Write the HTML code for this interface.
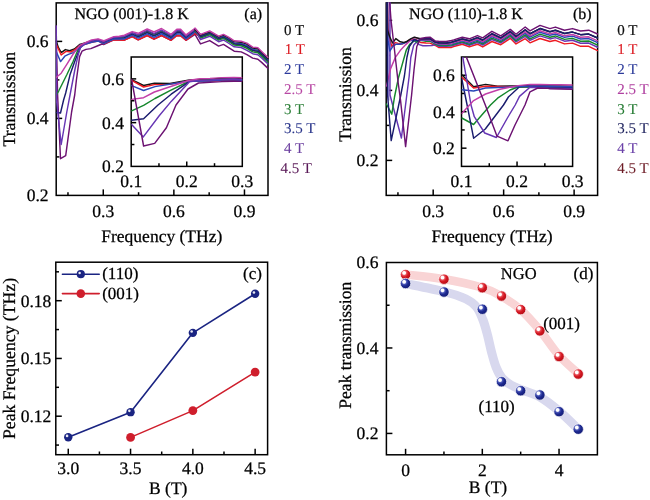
<!DOCTYPE html>
<html><head><meta charset="utf-8"><style>
html,body{margin:0;padding:0;background:#fff;width:650px;height:500px;overflow:hidden;position:relative}
text{text-rendering:geometricPrecision}
</style></head><body>
<svg width="650" height="500" viewBox="0 0 650 500" style="position:absolute;left:0;top:0;will-change:transform">
<g font-family='"Liberation Serif", serif' text-rendering="geometricPrecision">
<rect width="650" height="500" fill="#fff"/>
<defs><clipPath id="ca"><rect x="55.5" y="2.2" width="213.2" height="193.9"/></clipPath><clipPath id="cb"><rect x="385.5" y="2.2" width="212.8" height="193.9"/></clipPath><clipPath id="cia"><rect x="131.2" y="57" width="111.1" height="109.4"/></clipPath><clipPath id="cib"><rect x="461.5" y="57" width="111.1" height="109.4"/></clipPath></defs>
<rect x="56.20" y="2.90" width="211.80" height="192.50" fill="none" stroke="#000" stroke-width="1.5"/>
<line x1="103.27" y1="195.40" x2="103.27" y2="189.40" stroke="#000" stroke-width="1.5"/>
<line x1="173.87" y1="195.40" x2="173.87" y2="189.40" stroke="#000" stroke-width="1.5"/>
<line x1="244.47" y1="195.40" x2="244.47" y2="189.40" stroke="#000" stroke-width="1.5"/>
<line x1="67.97" y1="195.40" x2="67.97" y2="192.20" stroke="#000" stroke-width="1.5"/>
<line x1="138.57" y1="195.40" x2="138.57" y2="192.20" stroke="#000" stroke-width="1.5"/>
<line x1="209.17" y1="195.40" x2="209.17" y2="192.20" stroke="#000" stroke-width="1.5"/>
<line x1="56.20" y1="118.40" x2="62.20" y2="118.40" stroke="#000" stroke-width="1.5"/>
<line x1="56.20" y1="41.40" x2="62.20" y2="41.40" stroke="#000" stroke-width="1.5"/>
<line x1="56.20" y1="156.90" x2="59.40" y2="156.90" stroke="#000" stroke-width="1.5"/>
<line x1="56.20" y1="79.90" x2="59.40" y2="79.90" stroke="#000" stroke-width="1.5"/>
<text x="48.60" y="201.30" font-size="17.5" text-anchor="end" fill="#000" stroke="#000" stroke-width="0.25">0.2</text>
<text x="48.60" y="124.30" font-size="17.5" text-anchor="end" fill="#000" stroke="#000" stroke-width="0.25">0.4</text>
<text x="48.60" y="47.30" font-size="17.5" text-anchor="end" fill="#000" stroke="#000" stroke-width="0.25">0.6</text>
<text x="103.27" y="216.50" font-size="17.5" text-anchor="middle" fill="#000" stroke="#000" stroke-width="0.25">0.3</text>
<text x="173.87" y="216.50" font-size="17.5" text-anchor="middle" fill="#000" stroke="#000" stroke-width="0.25">0.6</text>
<text x="244.47" y="216.50" font-size="17.5" text-anchor="middle" fill="#000" stroke="#000" stroke-width="0.25">0.9</text>
<text x="15.20" y="99.20" font-size="17.7" text-anchor="middle" fill="#000" stroke="#000" stroke-width="0.25" transform="rotate(-90 15.2 99.2)">Transmission</text>
<text x="161.80" y="241.80" font-size="17.5" text-anchor="middle" fill="#000" stroke="#000" stroke-width="0.25">Frequency (THz)</text>
<text x="74.50" y="19.30" font-size="16" text-anchor="start" fill="#000" stroke="#000" stroke-width="0.25">NGO (001)-1.8 K</text>
<text x="244.30" y="19.30" font-size="16" text-anchor="start" fill="#000" stroke="#000" stroke-width="0.25">(a)</text>
<g clip-path="url(#ca)">
<polyline points="56.10,26.00 57.60,95.00 60.50,158.70 65.70,155.70 71.60,112.00 74.70,95.00 76.40,80.00 79.60,56.60 82.00,51.20 86.00,49.40 90.80,48.60 97.20,46.00 102.00,44.00 103.60,44.50 113.80,39.90 119.30,40.00 124.40,40.20 132.20,36.60 138.20,39.80 147.20,35.50 154.00,39.20 161.50,35.50 171.10,40.30 176.80,35.50 180.60,35.80 186.00,40.30 195.00,34.30 200.50,43.90 209.70,40.60 218.60,46.10 223.50,44.40 229.00,47.90 234.20,51.20 241.20,51.90 246.90,54.70 252.70,58.10 257.90,59.20 261.90,62.60 268.00,68.40" fill="none" stroke="#6c1272" stroke-width="1.45" stroke-linejoin="round" stroke-linecap="round" opacity="1.0"/>
<polyline points="56.40,41.20 58.20,47.20 61.20,52.60 65.40,49.60 69.60,50.80 74.40,49.00 79.60,44.49 84.20,43.16 91.60,40.86 98.10,39.74 103.60,41.91 113.80,37.59 119.30,37.34 124.40,36.70 132.20,33.10 138.20,35.25 147.20,30.95 154.00,34.16 161.50,30.60 171.10,36.17 176.80,31.16 180.60,31.18 186.00,36.52 195.00,29.80 200.50,35.11" fill="none" stroke="#141414" stroke-width="1.45" stroke-linejoin="round" stroke-linecap="round" opacity="1.0"/>
<polyline points="56.40,95.00 58.80,90.80 66.80,74.80 73.20,61.20 78.00,49.80 80.40,45.60 84.20,43.80 91.60,41.50 98.10,40.30 103.60,42.65 113.80,38.25 119.30,38.10 124.40,37.70 132.20,34.10 138.20,36.55 147.20,32.25 154.00,35.60 161.50,32.00 171.10,37.35 176.80,32.40 180.60,32.50 186.00,37.60 195.00,30.80 200.50,38.07" fill="none" stroke="#15872c" stroke-width="1.45" stroke-linejoin="round" stroke-linecap="round" opacity="1.0"/>
<polyline points="56.40,112.50 60.50,113.00 63.60,100.00 65.70,93.00 70.00,74.80 74.80,61.20 79.60,49.20 82.00,45.00 84.20,43.96 91.60,41.66 98.10,40.44 103.60,42.84 113.80,38.41 119.30,38.29 124.40,37.95 132.20,34.35 138.20,36.88 147.20,32.58 154.00,35.96 161.50,32.35 171.10,37.64 176.80,32.71 180.60,32.83 186.00,37.87 195.00,31.05 200.50,37.05" fill="none" stroke="#1a1c6e" stroke-width="1.45" stroke-linejoin="round" stroke-linecap="round" opacity="1.0"/>
<polyline points="56.40,44.80 61.20,55.00 66.00,51.40 70.80,52.00 75.00,49.60 79.60,45.88 84.20,44.50 91.60,42.20 98.10,40.92 103.60,43.75 113.80,39.90 119.30,40.00 124.40,40.20 132.20,36.60 138.20,39.80 147.20,35.50 154.00,39.20 161.50,35.50 171.10,40.30 176.80,35.50 180.60,35.80 186.00,40.30 195.00,33.30 200.50,36.95" fill="none" stroke="#ee1a22" stroke-width="1.45" stroke-linejoin="round" stroke-linecap="round" opacity="1.0"/>
<polyline points="56.40,52.00 60.60,61.60 64.80,56.20 68.40,54.40 73.20,52.60 78.00,49.00 84.20,44.60 91.60,42.30 98.10,41.00 103.60,43.58 113.80,39.08 119.30,39.05 124.40,38.95 132.20,35.35 138.20,38.17 147.20,33.88 154.00,37.40 161.50,33.75 171.10,38.82 176.80,33.95 180.60,34.15 186.00,38.95 195.00,32.05 200.50,36.24" fill="none" stroke="#2a48b8" stroke-width="1.45" stroke-linejoin="round" stroke-linecap="round" opacity="1.0"/>
<polyline points="56.10,26.00 56.50,100.00 61.20,144.50 66.80,112.00 70.40,93.00 74.80,70.00 78.00,55.60 80.40,47.60 83.60,44.60 91.60,40.60 98.10,39.52 103.60,41.61 113.80,37.33 119.30,37.04 124.40,36.30 132.20,32.70 138.20,34.73 147.20,30.43 154.00,33.58 161.50,30.04 171.10,35.70 176.80,30.66 180.60,30.65 186.00,36.09 195.00,29.40 200.50,39.50" fill="none" stroke="#6636b4" stroke-width="1.45" stroke-linejoin="round" stroke-linecap="round" opacity="1.0"/>
<polyline points="56.40,77.20 61.20,73.20 66.80,64.40 73.20,54.00 79.60,45.40 86.00,42.40 91.60,39.90 98.10,38.90 103.60,40.80 113.80,36.60 119.30,36.20 124.40,35.20 132.20,31.60 138.20,33.30 147.20,29.00 154.00,32.00 161.50,28.50 171.10,34.40 176.80,29.30 180.60,29.20 186.00,34.90 195.00,28.30 200.50,34.40" fill="none" stroke="#c23ea8" stroke-width="1.45" stroke-linejoin="round" stroke-linecap="round" opacity="1.0"/>
<polyline points="195.00,33.30 200.50,36.95 209.70,33.60 218.60,38.95 223.50,37.20 229.00,40.40 234.20,43.80 241.20,44.40 246.90,46.70 252.70,50.40 257.90,51.25 261.90,54.95 268.00,60.80" fill="none" stroke="#ee1a22" stroke-width="1.45" stroke-linejoin="round" stroke-linecap="round" opacity="1.0"/>
<polyline points="195.00,32.05 200.50,36.24 209.70,32.87 218.60,38.18 223.50,36.42 229.00,39.53 234.20,42.96 241.20,43.53 246.90,45.69 252.70,49.48 257.90,50.26 261.90,54.04 268.00,59.90" fill="none" stroke="#2a48b8" stroke-width="1.45" stroke-linejoin="round" stroke-linecap="round" opacity="1.0"/>
<polyline points="195.00,31.05 200.50,37.05 209.70,33.70 218.60,39.06 223.50,37.31 229.00,40.52 234.20,43.92 241.20,44.52 246.90,46.84 252.70,50.53 257.90,51.39 261.90,55.08 268.00,60.93" fill="none" stroke="#1a1c6e" stroke-width="1.45" stroke-linejoin="round" stroke-linecap="round" opacity="1.0"/>
<polyline points="195.00,30.80 200.50,38.07 209.70,34.74 218.60,40.16 223.50,38.43 229.00,41.76 234.20,45.12 241.20,45.76 246.90,48.28 252.70,51.85 257.90,52.81 261.90,56.38 268.00,62.21" fill="none" stroke="#15872c" stroke-width="1.45" stroke-linejoin="round" stroke-linecap="round" opacity="1.0"/>
<polyline points="195.00,29.40 200.50,39.50 209.70,36.20 218.60,41.70 223.50,40.00 229.00,43.50 234.20,46.80 241.20,47.50 246.90,50.30 252.70,53.70 257.90,54.80 261.90,58.20 268.00,64.00" fill="none" stroke="#6636b4" stroke-width="1.45" stroke-linejoin="round" stroke-linecap="round" opacity="1.0"/>
<polyline points="195.00,29.80 200.50,35.11 209.70,31.73 218.60,36.97 223.50,35.18 229.00,38.17 234.20,41.64 241.20,42.17 246.90,44.11 252.70,48.02 257.90,48.69 261.90,52.61 268.00,58.50" fill="none" stroke="#141414" stroke-width="1.45" stroke-linejoin="round" stroke-linecap="round" opacity="1.0"/>
<polyline points="195.00,28.30 200.50,34.40 209.70,31.00 218.60,36.20 223.50,34.40 229.00,37.30 234.20,40.80 241.20,41.30 246.90,43.10 252.70,47.10 257.90,47.70 261.90,51.70 268.00,57.60" fill="none" stroke="#c23ea8" stroke-width="1.45" stroke-linejoin="round" stroke-linecap="round" opacity="1.0"/>
</g>
<rect x="131.2" y="57" width="111.1" height="109.4" fill="#fff"/>
<rect x="131.2" y="57.0" width="111.10000000000002" height="109.4" fill="none" stroke="#000" stroke-width="1.5"/>
<line x1="186.75" y1="166.40" x2="186.75" y2="161.40" stroke="#000" stroke-width="1.5"/>
<line x1="158.97" y1="166.40" x2="158.97" y2="163.20" stroke="#000" stroke-width="1.5"/>
<line x1="214.52" y1="166.40" x2="214.52" y2="163.20" stroke="#000" stroke-width="1.5"/>
<line x1="131.20" y1="122.64" x2="136.20" y2="122.64" stroke="#000" stroke-width="1.5"/>
<line x1="131.20" y1="78.88" x2="136.20" y2="78.88" stroke="#000" stroke-width="1.5"/>
<line x1="131.20" y1="144.52" x2="134.40" y2="144.52" stroke="#000" stroke-width="1.5"/>
<line x1="131.20" y1="100.76" x2="134.40" y2="100.76" stroke="#000" stroke-width="1.5"/>
<text x="123.90" y="172.30" font-size="17.5" text-anchor="end" fill="#000" stroke="#000" stroke-width="0.25">0.2</text>
<text x="123.90" y="128.54" font-size="17.5" text-anchor="end" fill="#000" stroke="#000" stroke-width="0.25">0.4</text>
<text x="123.90" y="84.78" font-size="17.5" text-anchor="end" fill="#000" stroke="#000" stroke-width="0.25">0.6</text>
<text x="131.20" y="187.20" font-size="17.5" text-anchor="middle" fill="#000" stroke="#000" stroke-width="0.25">0.1</text>
<text x="186.75" y="187.20" font-size="17.5" text-anchor="middle" fill="#000" stroke="#000" stroke-width="0.25">0.2</text>
<text x="242.30" y="187.20" font-size="17.5" text-anchor="middle" fill="#000" stroke="#000" stroke-width="0.25">0.3</text>
<g clip-path="url(#cia)">
<polyline points="131.60,79.60 143.60,85.50 154.40,83.30 170.00,83.50 189.50,80.00 200.00,79.40 210.00,79.12 222.00,78.32 234.00,78.12 242.30,78.52" fill="none" stroke="#141414" stroke-width="1.45" stroke-linejoin="round" stroke-linecap="round" opacity="1.0"/>
<polyline points="131.60,110.80 143.60,105.40 155.00,98.50 170.00,90.60 185.60,83.00 189.50,80.80 200.00,80.50 210.00,80.38 222.00,79.58 234.00,79.38 242.30,79.78" fill="none" stroke="#15872c" stroke-width="1.45" stroke-linejoin="round" stroke-linecap="round" opacity="1.0"/>
<polyline points="131.60,120.20 143.60,118.80 158.00,105.00 171.20,94.20 185.60,84.20 189.50,81.20 200.00,80.80 210.00,80.56 222.00,79.76 234.00,79.56 242.30,79.96" fill="none" stroke="#1a1c6e" stroke-width="1.45" stroke-linejoin="round" stroke-linecap="round" opacity="1.0"/>
<polyline points="131.60,80.40 143.60,87.00 154.40,84.60 170.00,84.40 189.50,80.60 200.00,80.60 210.00,81.28 222.00,80.48 234.00,80.28 242.30,80.68" fill="none" stroke="#ee1a22" stroke-width="1.45" stroke-linejoin="round" stroke-linecap="round" opacity="1.0"/>
<polyline points="131.60,85.60 143.60,90.50 155.00,86.60 189.50,81.00 200.00,80.80 210.00,80.92 222.00,80.12 234.00,79.92 242.30,80.32" fill="none" stroke="#2a48b8" stroke-width="1.45" stroke-linejoin="round" stroke-linecap="round" opacity="1.0"/>
<polyline points="131.60,124.50 143.30,136.90 159.20,115.80 171.20,101.40 185.60,86.00 189.50,81.80 200.00,80.40 210.00,80.02 222.00,79.22 234.00,79.02 242.30,79.42" fill="none" stroke="#6636b4" stroke-width="1.45" stroke-linejoin="round" stroke-linecap="round" opacity="1.0"/>
<polyline points="131.60,99.40 143.60,97.70 154.40,92.00 189.50,80.20 200.00,78.80 210.00,78.40 222.00,77.60 234.00,77.40 242.30,77.80" fill="none" stroke="#c23ea8" stroke-width="1.45" stroke-linejoin="round" stroke-linecap="round" opacity="1.0"/>
<polyline points="131.60,79.50 143.60,146.00 154.70,143.40 166.40,127.80 176.00,105.00 188.00,89.00 198.50,83.00 210.00,82.40 222.00,81.60 234.00,81.20 242.30,81.40" fill="none" stroke="#6c1272" stroke-width="1.45" stroke-linejoin="round" stroke-linecap="round" opacity="1.0"/>
</g>
<text x="284.00" y="34.60" font-size="15" text-anchor="start" fill="#111" stroke="#111" stroke-width="0.2">0 T</text>
<text x="284.80" y="54.35" font-size="15" text-anchor="start" fill="#dc1a22" stroke="#dc1a22" stroke-width="0.08">1 T</text>
<text x="284.00" y="74.10" font-size="15" text-anchor="start" fill="#2c3a9c" stroke="#2c3a9c" stroke-width="0.08">2 T</text>
<text x="284.00" y="93.85" font-size="15" text-anchor="start" fill="#b848a4" stroke="#b848a4" stroke-width="0.08">2.5 T</text>
<text x="284.00" y="113.60" font-size="15" text-anchor="start" fill="#2a7e36" stroke="#2a7e36" stroke-width="0.08">3 T</text>
<text x="284.00" y="133.35" font-size="15" text-anchor="start" fill="#28348a" stroke="#28348a" stroke-width="0.08">3.5 T</text>
<text x="284.00" y="153.10" font-size="15" text-anchor="start" fill="#6c40a0" stroke="#6c40a0" stroke-width="0.08">4 T</text>
<text x="280.60" y="172.85" font-size="15" text-anchor="start" fill="#5a1a58" stroke="#5a1a58" stroke-width="0.08">4.5 T</text>
<rect x="386.20" y="2.90" width="211.40" height="192.50" fill="none" stroke="#000" stroke-width="1.5"/>
<line x1="433.18" y1="195.40" x2="433.18" y2="189.40" stroke="#000" stroke-width="1.5"/>
<line x1="503.64" y1="195.40" x2="503.64" y2="189.40" stroke="#000" stroke-width="1.5"/>
<line x1="574.11" y1="195.40" x2="574.11" y2="189.40" stroke="#000" stroke-width="1.5"/>
<line x1="397.94" y1="195.40" x2="397.94" y2="192.20" stroke="#000" stroke-width="1.5"/>
<line x1="468.41" y1="195.40" x2="468.41" y2="192.20" stroke="#000" stroke-width="1.5"/>
<line x1="538.88" y1="195.40" x2="538.88" y2="192.20" stroke="#000" stroke-width="1.5"/>
<line x1="386.20" y1="160.40" x2="392.20" y2="160.40" stroke="#000" stroke-width="1.5"/>
<line x1="386.20" y1="90.40" x2="392.20" y2="90.40" stroke="#000" stroke-width="1.5"/>
<line x1="386.20" y1="20.40" x2="392.20" y2="20.40" stroke="#000" stroke-width="1.5"/>
<line x1="386.20" y1="125.40" x2="389.40" y2="125.40" stroke="#000" stroke-width="1.5"/>
<line x1="386.20" y1="55.40" x2="389.40" y2="55.40" stroke="#000" stroke-width="1.5"/>
<text x="378.40" y="166.30" font-size="17.5" text-anchor="end" fill="#000" stroke="#000" stroke-width="0.25">0.2</text>
<text x="378.40" y="96.30" font-size="17.5" text-anchor="end" fill="#000" stroke="#000" stroke-width="0.25">0.4</text>
<text x="378.40" y="26.30" font-size="17.5" text-anchor="end" fill="#000" stroke="#000" stroke-width="0.25">0.6</text>
<text x="433.18" y="216.50" font-size="17.5" text-anchor="middle" fill="#000" stroke="#000" stroke-width="0.25">0.3</text>
<text x="503.64" y="216.50" font-size="17.5" text-anchor="middle" fill="#000" stroke="#000" stroke-width="0.25">0.6</text>
<text x="574.11" y="216.50" font-size="17.5" text-anchor="middle" fill="#000" stroke="#000" stroke-width="0.25">0.9</text>
<text x="350.80" y="94.40" font-size="17.7" text-anchor="middle" fill="#000" stroke="#000" stroke-width="0.25" transform="rotate(-90 350.8 94.4)">Transmission</text>
<text x="492.00" y="241.80" font-size="17.5" text-anchor="middle" fill="#000" stroke="#000" stroke-width="0.25">Frequency (THz)</text>
<text x="409.10" y="19.40" font-size="16" text-anchor="start" fill="#000" stroke="#000" stroke-width="0.25">NGO (110)-1.8 K</text>
<text x="572.90" y="19.40" font-size="16" text-anchor="start" fill="#000" stroke="#000" stroke-width="0.25">(b)</text>
<g clip-path="url(#cb)">
<polyline points="388.80,-4.00 388.80,100.00" fill="none" stroke="#a89ce0" stroke-width="1.6" stroke-linejoin="round" stroke-linecap="round" opacity="1.0"/>
<polyline points="387.20,-4.00 388.00,28.00 390.00,40.00 391.80,46.20 395.40,42.60 398.30,43.40 402.00,44.00 404.50,42.80 410.60,39.40 416.00,39.50 420.50,42.50 426.00,43.00 430.00,43.10 435.40,45.50 438.60,47.40 446.10,47.40 451.50,47.40 453.70,46.50 462.30,44.20 469.30,46.90 477.40,44.20 482.70,46.90 491.90,41.50 500.80,44.70 510.30,38.30 516.00,43.90 525.20,38.70 530.00,42.80 540.00,38.50 549.90,41.50 555.40,40.30 564.50,43.90 572.50,43.10 580.60,46.30 588.70,46.30 597.60,50.60" fill="none" stroke="#ee1a22" stroke-width="1.45" stroke-linejoin="round" stroke-linecap="round" opacity="1.0"/>
<polyline points="390.00,-4.00 390.00,95.00 401.40,138.00 406.80,95.00 409.20,76.00 410.80,57.50 413.70,45.20 416.20,42.20 419.20,44.60 422.90,45.80 426.00,45.80 432.00,45.50 435.40,44.60 438.60,46.16 446.10,46.22 451.50,46.02 453.70,45.18 462.30,42.80 469.30,45.28 477.40,42.48 482.70,45.08 491.90,39.46 500.80,42.92 510.30,36.52 516.00,41.96 525.20,36.36 530.00,40.42 540.00,35.88 549.90,38.92 555.40,37.66 564.50,41.16 572.50,40.20 580.60,43.24 588.70,43.08 597.60,47.28" fill="none" stroke="#6636b4" stroke-width="1.45" stroke-linejoin="round" stroke-linecap="round" opacity="1.0"/>
<polyline points="386.40,104.00 391.80,114.20 394.50,97.00 398.40,78.00 403.20,61.00 406.30,50.00 410.00,44.00 414.30,40.90 416.80,42.20 420.50,40.30 426.00,41.19 430.00,41.15 435.40,44.02 438.60,45.35 446.10,45.45 451.50,45.12 453.70,44.32 462.30,41.89 469.30,44.23 477.40,41.36 482.70,43.90 491.90,38.13 500.80,41.76 510.30,35.36 516.00,40.70 525.20,34.84 530.00,38.87 540.00,34.18 549.90,37.24 555.40,35.94 564.50,39.38 572.50,38.31 580.60,41.25 588.70,40.99 597.60,45.12" fill="none" stroke="#15872c" stroke-width="1.45" stroke-linejoin="round" stroke-linecap="round" opacity="1.0"/>
<polyline points="387.00,-4.00 388.00,40.00 389.80,51.00 393.00,46.20 396.20,44.20 400.20,44.30 404.50,43.00 409.40,40.30 416.00,40.50 420.50,40.10 426.00,40.36 430.00,40.27 435.40,43.34 438.60,44.42 446.10,44.57 451.50,44.09 453.70,43.33 462.30,40.84 469.30,43.01 477.40,40.07 482.70,42.53 491.90,36.60 500.80,40.43 510.30,34.03 516.00,39.24 525.20,33.08 530.00,37.09 540.00,32.21 549.90,35.31 555.40,33.96 564.50,37.32 572.50,36.14 580.60,38.96 588.70,38.57 597.60,42.63" fill="none" stroke="#2a48b8" stroke-width="1.45" stroke-linejoin="round" stroke-linecap="round" opacity="1.0"/>
<polyline points="386.60,86.00 390.60,68.60 395.40,57.40 400.20,50.60 405.80,44.60 411.40,39.40 415.00,37.40 420.50,39.55 426.00,39.76 430.00,39.62 435.40,42.84 438.60,43.74 446.10,43.92 451.50,43.33 453.70,42.61 462.30,40.07 469.30,42.12 477.40,39.13 482.70,41.53 491.90,35.48 500.80,39.45 510.30,33.05 516.00,38.18 525.20,31.80 530.00,35.78 540.00,30.77 549.90,33.89 555.40,32.51 564.50,35.82 572.50,34.55 580.60,37.27 588.70,36.80 597.60,40.81" fill="none" stroke="#c23ea8" stroke-width="1.45" stroke-linejoin="round" stroke-linecap="round" opacity="1.0"/>
<polyline points="387.00,-4.00 387.40,30.00 389.60,36.50 392.60,43.00 395.80,38.60 400.20,41.80 403.80,42.50 406.30,41.80 410.60,38.80 414.30,37.20 420.50,38.70 426.00,38.82 430.00,38.62 435.40,42.08 438.60,42.69 446.10,42.92 451.50,42.16 453.70,41.48 462.30,38.88 469.30,40.74 477.40,37.66 482.70,39.98 491.90,33.75 500.80,37.94 510.30,31.54 516.00,36.53 525.20,29.81 530.00,33.76 540.00,28.54 549.90,31.70 555.40,30.27 564.50,33.49 572.50,32.08 580.60,34.67 588.70,34.06 597.60,37.98" fill="none" stroke="#141414" stroke-width="1.45" stroke-linejoin="round" stroke-linecap="round" opacity="1.0"/>
<polyline points="387.00,-4.00 387.60,95.00 391.20,140.60 400.80,95.00 404.40,76.00 406.90,57.50 409.40,46.50 414.30,39.40 418.00,41.20 420.50,38.70 426.00,38.82 430.00,38.62 435.40,42.08 438.60,42.69 446.10,42.92 451.50,42.16 453.70,41.48 462.30,38.88 469.30,40.74 477.40,37.66 482.70,39.98 491.90,33.75 500.80,37.94 510.30,31.54 516.00,36.53 525.20,29.81 530.00,33.76 540.00,28.54 549.90,31.70 555.40,30.27 564.50,33.49 572.50,32.08 580.60,34.67 588.70,34.06 597.60,37.98" fill="none" stroke="#1a1c6e" stroke-width="1.45" stroke-linejoin="round" stroke-linecap="round" opacity="1.0"/>
<polyline points="389.20,-4.00 391.00,20.00 394.50,50.00 398.20,83.00 400.50,100.00 405.60,146.60 411.60,95.00 414.00,70.00 416.80,46.50 420.50,38.50 426.00,37.50 430.00,37.20 435.40,41.00 438.60,41.20 446.10,41.50 451.50,40.50 453.70,39.90 462.30,37.20 469.30,38.80 477.40,35.60 482.70,37.80 491.90,31.30 500.80,35.80 510.30,29.40 516.00,34.20 525.20,27.00 530.00,30.90 540.00,25.40 549.90,28.60 555.40,27.10 564.50,30.20 572.50,28.60 580.60,31.00 588.70,30.20 597.60,34.00" fill="none" stroke="#6c1272" stroke-width="1.45" stroke-linejoin="round" stroke-linecap="round" opacity="1.0"/>
</g>
<rect x="461.5" y="57" width="111.1" height="109.4" fill="#fff"/>
<rect x="461.5" y="57.0" width="111.10000000000002" height="109.4" fill="none" stroke="#000" stroke-width="1.5"/>
<line x1="517.05" y1="166.40" x2="517.05" y2="161.40" stroke="#000" stroke-width="1.5"/>
<line x1="489.27" y1="166.40" x2="489.27" y2="163.20" stroke="#000" stroke-width="1.5"/>
<line x1="544.83" y1="166.40" x2="544.83" y2="163.20" stroke="#000" stroke-width="1.5"/>
<line x1="461.50" y1="148.17" x2="466.50" y2="148.17" stroke="#000" stroke-width="1.5"/>
<line x1="461.50" y1="111.70" x2="466.50" y2="111.70" stroke="#000" stroke-width="1.5"/>
<line x1="461.50" y1="75.23" x2="466.50" y2="75.23" stroke="#000" stroke-width="1.5"/>
<line x1="461.50" y1="129.93" x2="464.70" y2="129.93" stroke="#000" stroke-width="1.5"/>
<line x1="461.50" y1="93.47" x2="464.70" y2="93.47" stroke="#000" stroke-width="1.5"/>
<text x="454.80" y="154.07" font-size="17.5" text-anchor="end" fill="#000" stroke="#000" stroke-width="0.25">0.2</text>
<text x="454.80" y="117.60" font-size="17.5" text-anchor="end" fill="#000" stroke="#000" stroke-width="0.25">0.4</text>
<text x="454.80" y="81.13" font-size="17.5" text-anchor="end" fill="#000" stroke="#000" stroke-width="0.25">0.6</text>
<text x="461.50" y="187.20" font-size="17.5" text-anchor="middle" fill="#000" stroke="#000" stroke-width="0.25">0.1</text>
<text x="517.05" y="187.20" font-size="17.5" text-anchor="middle" fill="#000" stroke="#000" stroke-width="0.25">0.2</text>
<text x="572.60" y="187.20" font-size="17.5" text-anchor="middle" fill="#000" stroke="#000" stroke-width="0.25">0.3</text>
<g clip-path="url(#cib)">
<polyline points="461.80,74.80 473.60,86.80 485.60,84.40 497.60,86.20 518.00,86.00 530.00,85.60 540.00,85.60 550.00,85.86 560.00,86.06 572.60,86.32" fill="none" stroke="#141414" stroke-width="1.45" stroke-linejoin="round" stroke-linecap="round" opacity="1.0"/>
<polyline points="461.80,77.20 473.60,88.00 485.60,86.20 518.00,86.80 530.00,86.40 540.00,86.40 550.00,86.70 560.00,86.90 572.60,87.20" fill="none" stroke="#ee1a22" stroke-width="1.45" stroke-linejoin="round" stroke-linecap="round" opacity="1.0"/>
<polyline points="461.80,118.00 473.60,124.50 490.50,105.00 497.60,98.20 510.00,90.00 518.00,87.00 530.00,87.00 540.00,87.00 550.00,87.33 560.00,87.53 572.60,87.86" fill="none" stroke="#15872c" stroke-width="1.45" stroke-linejoin="round" stroke-linecap="round" opacity="1.0"/>
<polyline points="461.80,79.00 467.10,105.00 473.60,138.20 485.30,129.00 503.50,105.00 508.40,97.00 519.50,86.80 530.00,86.60 540.00,86.60 550.00,86.91 560.00,87.11 572.60,87.42" fill="none" stroke="#1a1c6e" stroke-width="1.45" stroke-linejoin="round" stroke-linecap="round" opacity="1.0"/>
<polyline points="461.80,89.80 473.60,91.00 485.60,88.00 518.00,86.60 530.00,86.00 540.00,86.00 550.00,86.28 560.00,86.48 572.60,86.76" fill="none" stroke="#2a48b8" stroke-width="1.45" stroke-linejoin="round" stroke-linecap="round" opacity="1.0"/>
<polyline points="462.80,57.20 471.00,105.00 474.30,116.70 484.70,133.00 496.40,137.50 507.40,118.00 515.20,105.00 519.50,96.40 530.00,87.20 540.00,87.80 550.00,88.17 560.00,88.37 572.60,88.74" fill="none" stroke="#6636b4" stroke-width="1.45" stroke-linejoin="round" stroke-linecap="round" opacity="1.0"/>
<polyline points="461.80,113.50 473.60,100.60 485.60,94.00 500.00,89.20 518.00,85.60 530.00,84.40 540.00,84.40 550.00,84.60 560.00,84.80 572.60,85.00" fill="none" stroke="#c23ea8" stroke-width="1.45" stroke-linejoin="round" stroke-linecap="round" opacity="1.0"/>
<polyline points="466.40,57.20 485.30,105.00 497.00,136.20 508.00,140.80 515.00,125.00 525.00,105.00 530.00,91.80 537.70,88.00 548.00,88.40 550.00,88.80 560.00,89.00 572.60,89.40" fill="none" stroke="#6c1272" stroke-width="1.45" stroke-linejoin="round" stroke-linecap="round" opacity="1.0"/>
</g>
<text x="617.20" y="34.60" font-size="15" text-anchor="start" fill="#111" stroke="#111" stroke-width="0.2">0 T</text>
<text x="617.20" y="54.35" font-size="15" text-anchor="start" fill="#dc1a22" stroke="#dc1a22" stroke-width="0.08">1 T</text>
<text x="617.20" y="74.10" font-size="15" text-anchor="start" fill="#2c3a9a" stroke="#2c3a9a" stroke-width="0.08">2 T</text>
<text x="617.20" y="93.85" font-size="15" text-anchor="start" fill="#b040a0" stroke="#b040a0" stroke-width="0.08">2.5 T</text>
<text x="617.20" y="113.60" font-size="15" text-anchor="start" fill="#227a30" stroke="#227a30" stroke-width="0.08">3 T</text>
<text x="617.20" y="133.35" font-size="15" text-anchor="start" fill="#1c205c" stroke="#1c205c" stroke-width="0.08">3.5 T</text>
<text x="617.20" y="153.10" font-size="15" text-anchor="start" fill="#6a40a8" stroke="#6a40a8" stroke-width="0.08">4 T</text>
<text x="617.20" y="172.85" font-size="15" text-anchor="start" fill="#6c1a24" stroke="#6c1a24" stroke-width="0.08">4.5 T</text>
<rect x="55.80" y="262.20" width="211.80" height="192.50" fill="none" stroke="#000" stroke-width="1.5"/>
<line x1="68.26" y1="454.70" x2="68.26" y2="448.70" stroke="#000" stroke-width="1.5"/>
<line x1="130.55" y1="454.70" x2="130.55" y2="448.70" stroke="#000" stroke-width="1.5"/>
<line x1="192.85" y1="454.70" x2="192.85" y2="448.70" stroke="#000" stroke-width="1.5"/>
<line x1="255.14" y1="454.70" x2="255.14" y2="448.70" stroke="#000" stroke-width="1.5"/>
<line x1="99.41" y1="454.70" x2="99.41" y2="451.50" stroke="#000" stroke-width="1.5"/>
<line x1="161.70" y1="454.70" x2="161.70" y2="451.50" stroke="#000" stroke-width="1.5"/>
<line x1="223.99" y1="454.70" x2="223.99" y2="451.50" stroke="#000" stroke-width="1.5"/>
<line x1="55.80" y1="416.20" x2="61.80" y2="416.20" stroke="#000" stroke-width="1.5"/>
<line x1="55.80" y1="358.45" x2="61.80" y2="358.45" stroke="#000" stroke-width="1.5"/>
<line x1="55.80" y1="300.70" x2="61.80" y2="300.70" stroke="#000" stroke-width="1.5"/>
<line x1="55.80" y1="445.07" x2="59.00" y2="445.07" stroke="#000" stroke-width="1.5"/>
<line x1="55.80" y1="387.32" x2="59.00" y2="387.32" stroke="#000" stroke-width="1.5"/>
<line x1="55.80" y1="329.57" x2="59.00" y2="329.57" stroke="#000" stroke-width="1.5"/>
<line x1="55.80" y1="271.82" x2="59.00" y2="271.82" stroke="#000" stroke-width="1.5"/>
<text x="51.30" y="422.10" font-size="17.5" text-anchor="end" fill="#000" stroke="#000" stroke-width="0.25">0.12</text>
<text x="51.30" y="364.35" font-size="17.5" text-anchor="end" fill="#000" stroke="#000" stroke-width="0.25">0.15</text>
<text x="51.30" y="306.60" font-size="17.5" text-anchor="end" fill="#000" stroke="#000" stroke-width="0.25">0.18</text>
<text x="68.26" y="473.80" font-size="17.5" text-anchor="middle" fill="#000" stroke="#000" stroke-width="0.25">3.0</text>
<text x="130.55" y="473.80" font-size="17.5" text-anchor="middle" fill="#000" stroke="#000" stroke-width="0.25">3.5</text>
<text x="192.85" y="473.80" font-size="17.5" text-anchor="middle" fill="#000" stroke="#000" stroke-width="0.25">4.0</text>
<text x="255.14" y="473.80" font-size="17.5" text-anchor="middle" fill="#000" stroke="#000" stroke-width="0.25">4.5</text>
<text x="14.80" y="358.50" font-size="17.7" text-anchor="middle" fill="#000" stroke="#000" stroke-width="0.25" transform="rotate(-90 14.8 358.5)">Peak Frequency (THz)</text>
<text x="149.00" y="493.80" font-size="17.5" text-anchor="start" fill="#000" stroke="#000" stroke-width="0.25">B (T)</text>
<text x="243.00" y="279.20" font-size="17" text-anchor="start" fill="#000" stroke="#000" stroke-width="0.25">(c)</text>
<text x="102.20" y="279.30" font-size="17" text-anchor="start" fill="#000" stroke="#000" stroke-width="0.25">(110)</text>
<text x="102.20" y="298.90" font-size="17" text-anchor="start" fill="#000" stroke="#000" stroke-width="0.25">(001)</text>
<polyline points="130.55,437.38 192.85,410.62 255.14,372.12" fill="none" stroke="#cf1e2c" stroke-width="1.6" stroke-linejoin="round" stroke-linecap="round" opacity="1.0"/>
<polyline points="68.26,437.18 130.55,412.16 192.85,332.85 255.14,293.77" fill="none" stroke="#1a2482" stroke-width="1.6" stroke-linejoin="round" stroke-linecap="round" opacity="1.0"/>
<circle cx="130.55" cy="437.38" r="4.4" fill="#cf1e2c"/>
<circle cx="192.85" cy="410.62" r="4.4" fill="#cf1e2c"/>
<circle cx="255.14" cy="372.12" r="4.4" fill="#cf1e2c"/>
<circle cx="68.26" cy="437.18" r="4.2" fill="#1a2482"/>
<circle cx="67.06" cy="435.88" r="1.3" fill="#fff" opacity="0.9"/>
<circle cx="130.55" cy="412.16" r="4.2" fill="#1a2482"/>
<circle cx="129.35" cy="410.86" r="1.3" fill="#fff" opacity="0.9"/>
<circle cx="192.85" cy="332.85" r="4.2" fill="#1a2482"/>
<circle cx="191.65" cy="331.55" r="1.3" fill="#fff" opacity="0.9"/>
<circle cx="255.14" cy="293.77" r="4.2" fill="#1a2482"/>
<circle cx="253.94" cy="292.47" r="1.3" fill="#fff" opacity="0.9"/>
<polyline points="62.40,274.20 99.20,274.20" fill="none" stroke="#1a2482" stroke-width="1.6" stroke-linejoin="round" stroke-linecap="round" opacity="1.0"/>
<circle cx="80.8" cy="274.2" r="4.1" fill="#1a2482"/><circle cx="79.6" cy="272.9" r="1.25" fill="#fff" opacity="0.9"/>
<polyline points="62.40,293.60 99.20,293.60" fill="none" stroke="#cf1e2c" stroke-width="1.6" stroke-linejoin="round" stroke-linecap="round" opacity="1.0"/>
<circle cx="80.8" cy="293.6" r="4.3" fill="#cf1e2c"/>
<rect x="386.40" y="262.50" width="211.00" height="192.30" fill="none" stroke="#000" stroke-width="1.5"/>
<line x1="405.58" y1="454.80" x2="405.58" y2="448.80" stroke="#000" stroke-width="1.5"/>
<line x1="482.31" y1="454.80" x2="482.31" y2="448.80" stroke="#000" stroke-width="1.5"/>
<line x1="559.04" y1="454.80" x2="559.04" y2="448.80" stroke="#000" stroke-width="1.5"/>
<line x1="443.95" y1="454.80" x2="443.95" y2="451.60" stroke="#000" stroke-width="1.5"/>
<line x1="520.67" y1="454.80" x2="520.67" y2="451.60" stroke="#000" stroke-width="1.5"/>
<line x1="386.40" y1="433.43" x2="392.40" y2="433.43" stroke="#000" stroke-width="1.5"/>
<line x1="386.40" y1="347.97" x2="392.40" y2="347.97" stroke="#000" stroke-width="1.5"/>
<line x1="386.40" y1="390.70" x2="389.60" y2="390.70" stroke="#000" stroke-width="1.5"/>
<line x1="386.40" y1="305.23" x2="389.60" y2="305.23" stroke="#000" stroke-width="1.5"/>
<text x="378.40" y="439.33" font-size="17.5" text-anchor="end" fill="#000" stroke="#000" stroke-width="0.25">0.2</text>
<text x="378.40" y="353.87" font-size="17.5" text-anchor="end" fill="#000" stroke="#000" stroke-width="0.25">0.4</text>
<text x="378.40" y="268.40" font-size="17.5" text-anchor="end" fill="#000" stroke="#000" stroke-width="0.25">0.6</text>
<text x="405.58" y="476.00" font-size="17.5" text-anchor="middle" fill="#000" stroke="#000" stroke-width="0.25">0</text>
<text x="482.31" y="476.00" font-size="17.5" text-anchor="middle" fill="#000" stroke="#000" stroke-width="0.25">2</text>
<text x="559.04" y="476.00" font-size="17.5" text-anchor="middle" fill="#000" stroke="#000" stroke-width="0.25">4</text>
<text x="351.00" y="345.20" font-size="17.5" text-anchor="middle" fill="#000" stroke="#000" stroke-width="0.25" transform="rotate(-90 351.0 345.2)">Peak transmission</text>
<text x="468.80" y="492.80" font-size="17.5" text-anchor="start" fill="#000" stroke="#000" stroke-width="0.25">B (T)</text>
<text x="500.80" y="278.70" font-size="16.5" text-anchor="start" fill="#000" stroke="#000" stroke-width="0.25">NGO</text>
<text x="573.60" y="279.40" font-size="17" text-anchor="start" fill="#000" stroke="#000" stroke-width="0.25">(d)</text>
<text x="543.20" y="329.20" font-size="17" text-anchor="start" fill="#000" stroke="#000" stroke-width="0.25">(001)</text>
<text x="478.60" y="411.60" font-size="17" text-anchor="start" fill="#000" stroke="#000" stroke-width="0.25">(110)</text>
<path d="M404.90,274.40 C411.32,275.17 430.58,276.82 443.40,279.00 C456.22,281.18 472.20,284.67 481.80,287.50 C491.40,290.33 494.55,292.33 501.00,296.00 C507.45,299.67 514.00,303.75 520.50,309.50 C527.00,315.25 533.58,322.83 540.00,330.50 C546.42,338.17 552.63,348.33 559.00,355.50 C565.37,362.67 575.00,370.50 578.20,373.50" fill="none" stroke="#f9d4d5" stroke-width="8.5" stroke-linecap="round" stroke-linejoin="round"/>
<path d="M404.90,283.40 C411.32,284.75 433.22,288.90 443.40,291.50 C453.58,294.10 460.48,296.42 466.00,299.00 C471.52,301.58 473.67,303.50 476.50,307.00 C479.33,310.50 481.17,315.33 483.00,320.00 C484.83,324.67 486.08,329.67 487.50,335.00 C488.92,340.33 490.08,346.67 491.50,352.00 C492.92,357.33 494.25,362.67 496.00,367.00 C497.75,371.33 499.50,375.00 502.00,378.00 C504.50,381.00 507.67,383.00 511.00,385.00 C514.33,387.00 517.17,388.00 522.00,390.00 C526.83,392.00 533.83,393.50 540.00,397.00 C546.17,400.50 552.63,405.67 559.00,411.00 C565.37,416.33 575.00,426.00 578.20,429.00" fill="none" stroke="#d8d8ee" stroke-width="9" stroke-linecap="round" stroke-linejoin="round"/>
<defs><radialGradient id="gr" cx="0.36" cy="0.34" r="0.66"><stop offset="0" stop-color="#ffffff"/><stop offset="0.2" stop-color="#ffffff"/><stop offset="0.36" stop-color="#e8505a"/><stop offset="0.6" stop-color="#d41822"/><stop offset="1" stop-color="#b80c16"/></radialGradient><radialGradient id="gbl" cx="0.36" cy="0.34" r="0.66"><stop offset="0" stop-color="#ffffff"/><stop offset="0.2" stop-color="#ffffff"/><stop offset="0.36" stop-color="#4a56b8"/><stop offset="0.6" stop-color="#1e2a90"/><stop offset="1" stop-color="#141c78"/></radialGradient></defs>
<circle cx="405.58" cy="274.59" r="5.2" fill="url(#gr)" stroke="#fff" stroke-width="0.7"/>
<circle cx="443.95" cy="279.21" r="5.2" fill="url(#gr)" stroke="#fff" stroke-width="0.7"/>
<circle cx="482.31" cy="287.71" r="5.2" fill="url(#gr)" stroke="#fff" stroke-width="0.7"/>
<circle cx="501.49" cy="296.05" r="5.2" fill="url(#gr)" stroke="#fff" stroke-width="0.7"/>
<circle cx="520.67" cy="309.59" r="5.2" fill="url(#gr)" stroke="#fff" stroke-width="0.7"/>
<circle cx="539.85" cy="330.87" r="5.2" fill="url(#gr)" stroke="#fff" stroke-width="0.7"/>
<circle cx="559.04" cy="356.51" r="5.2" fill="url(#gr)" stroke="#fff" stroke-width="0.7"/>
<circle cx="578.22" cy="374.03" r="5.2" fill="url(#gr)" stroke="#fff" stroke-width="0.7"/>
<circle cx="405.58" cy="283.52" r="5.2" fill="url(#gbl)" stroke="#fff" stroke-width="0.7"/>
<circle cx="443.95" cy="292.03" r="5.2" fill="url(#gbl)" stroke="#fff" stroke-width="0.7"/>
<circle cx="482.31" cy="309.25" r="5.2" fill="url(#gbl)" stroke="#fff" stroke-width="0.7"/>
<circle cx="501.49" cy="381.73" r="5.2" fill="url(#gbl)" stroke="#fff" stroke-width="0.7"/>
<circle cx="520.67" cy="390.70" r="5.2" fill="url(#gbl)" stroke="#fff" stroke-width="0.7"/>
<circle cx="539.85" cy="394.97" r="5.2" fill="url(#gbl)" stroke="#fff" stroke-width="0.7"/>
<circle cx="559.04" cy="411.64" r="5.2" fill="url(#gbl)" stroke="#fff" stroke-width="0.7"/>
<circle cx="578.22" cy="429.16" r="5.2" fill="url(#gbl)" stroke="#fff" stroke-width="0.7"/>
</g></svg>
</body></html>
